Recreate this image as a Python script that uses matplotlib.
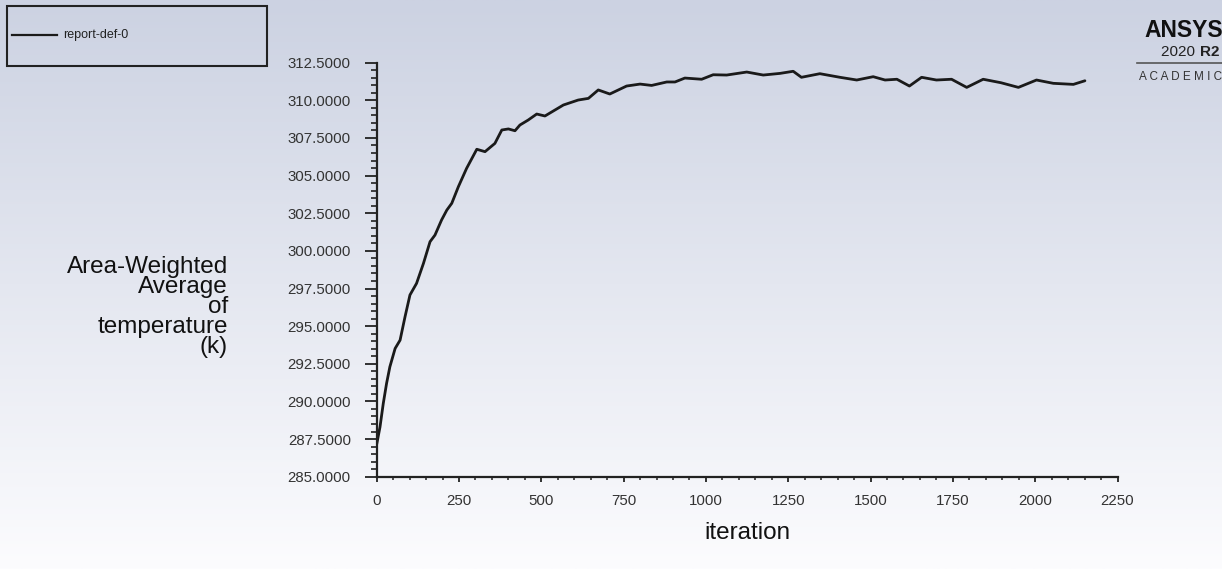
import numpy as np
import matplotlib
matplotlib.use("Agg")
import matplotlib.pyplot as plt
from matplotlib import font_manager
from matplotlib.patches import Rectangle
from matplotlib.lines import Line2D
from matplotlib.ticker import MultipleLocator, FormatStrFormatter

plt.rcParams['font.family'] = ['Liberation Sans', 'DejaVu Sans']

iterations = [0, 10, 20, 30, 40, 56, 71, 86, 101, 121, 142, 162, 177, 197, 213, 228,
              248, 273, 304, 329, 359, 380, 400, 420, 435, 460, 486, 511, 567, 612,
              643, 673, 708, 759, 800, 835, 881, 906, 936, 987, 1022, 1063, 1124,
              1174, 1225, 1265, 1290, 1346, 1407, 1458, 1508, 1544, 1580, 1618, 1655,
              1700, 1746, 1792, 1842, 1896, 1949, 2004, 2055, 2116, 2151]
temperature = [287.15, 288.3, 289.87, 291.2, 292.3, 293.52, 294.07, 295.62, 297.07,
               297.84, 299.17, 300.61, 301.05, 302.05, 302.71, 303.16, 304.26, 305.48,
               306.75, 306.59, 307.14, 308.03, 308.1, 307.98, 308.36, 308.69, 309.09,
               308.96, 309.69, 310.02, 310.13, 310.69, 310.42, 310.95, 311.08, 310.99,
               311.22, 311.22, 311.48, 311.4, 311.7, 311.68, 311.88, 311.68, 311.79,
               311.93, 311.53, 311.77, 311.53, 311.35, 311.57, 311.35, 311.4, 310.95,
               311.53, 311.35, 311.4, 310.86, 311.4, 311.17, 310.86, 311.35, 311.13,
               311.06, 311.3]
series_label = "report-def-0"
x_label = "iteration"
y_label = "Area-Weighted\nAverage\nof\ntemperature\n(k)"

W, H = 1222, 569
fig = plt.figure(figsize=(W / 100, H / 100), dpi=100)

# background gradient
bg = fig.add_axes([0, 0, 1, 1], zorder=-10)
top = np.array([204, 210, 226]) / 255
bot = np.array([252, 252, 254]) / 255
t = np.linspace(0, 1, 256)[:, None]
grad = top[None, :] * (1 - t) + bot[None, :] * t
img = np.repeat(grad[:, None, :], 2, axis=1)
bg.imshow(img, aspect='auto', extent=[0, 1, 0, 1], origin='upper')
bg.set_axis_off()

def fx(px):
    return px / W

def fy(py):
    return 1 - py / H

ax_l, ax_r = 376.7, 1117.5
ax_t, ax_b = 62.7, 476.7
ax = fig.add_axes([fx(ax_l), fy(ax_b), fx(ax_r) - fx(ax_l), fy(ax_t) - fy(ax_b)])
ax.set_facecolor('none')
ax.plot(iterations, temperature, color='#1a1a1a', lw=2.0, solid_joinstyle='round',
        solid_capstyle='round')
ax.set_xlim(0, 2250)
ax.set_ylim(285, 312.5)
ax.spines['top'].set_visible(False)
ax.spines['right'].set_visible(False)
for s in ['left', 'bottom']:
    ax.spines[s].set_linewidth(1.6)
    ax.spines[s].set_color('#222222')
ax.xaxis.set_major_locator(MultipleLocator(250))
ax.xaxis.set_minor_locator(MultipleLocator(50))
ax.yaxis.set_major_locator(MultipleLocator(2.5))
ax.yaxis.set_minor_locator(MultipleLocator(0.5))
ax.yaxis.set_major_formatter(FormatStrFormatter('%.4f'))
ax.tick_params(axis='y', which='major', length=8.6, width=1.3, pad=10,
               labelsize=10.8, labelcolor='#333333', color='#222222')
ax.tick_params(axis='y', which='minor', length=4.5, width=1.2, color='#222222')
ax.tick_params(axis='x', which='major', length=3.8, width=1.3, pad=9,
               labelsize=10.8, labelcolor='#333333', color='#222222')
ax.tick_params(axis='x', which='minor', length=2.2, width=1.1, color='#222222')

fig.text(fx(747), fy(533), x_label, ha='center', va='center', fontsize=17.5, color='#111111')
fig.text(fx(228), fy(307), y_label, ha='right', va='center', multialignment='right',
         fontsize=17.5, linespacing=0.87, color='#111111')

# legend box
fig.add_artist(Rectangle((fx(7), fy(66)), fx(267) - fx(7), fy(6) - fy(66),
                         transform=fig.transFigure, fill=False, ec='#222222', lw=1.5))
fig.add_artist(Line2D([fx(12), fx(57)], [fy(35), fy(35)], transform=fig.transFigure,
                      color='#1a1a1a', lw=1.6))
fig.text(fx(63), fy(35), series_label, ha='left', va='center', fontsize=9, color='#222222')

# ANSYS logo
names = {f.name for f in font_manager.fontManager.ttflist}
if 'Liberation Sans Narrow' in names:
    logo_family, logo_size = ['Liberation Sans Narrow', 'Liberation Sans'], 19.5
else:
    logo_family, logo_size = ['Liberation Sans', 'DejaVu Sans'], 16.5
fig.text(fx(1144), fy(37), "ANSYS", ha='left', va='baseline', fontsize=logo_size,
         fontweight='bold', color='#111111', family=logo_family)
fig.text(fx(1161), fy(56), "2020 ", ha='left', va='baseline', fontsize=11, color='#222222')
fig.text(fx(1200), fy(56), "R2", ha='left', va='baseline', fontsize=11,
         fontweight='bold', color='#222222')
fig.add_artist(Line2D([fx(1137), 1.0], [fy(63), fy(63)], transform=fig.transFigure,
                      color='#555555', lw=1.2))
fig.text(fx(1139), fy(80), "A C A D E M I C", ha='left', va='baseline', fontsize=8.5,
         color='#333333')

fig.savefig("out.png", dpi=100)
